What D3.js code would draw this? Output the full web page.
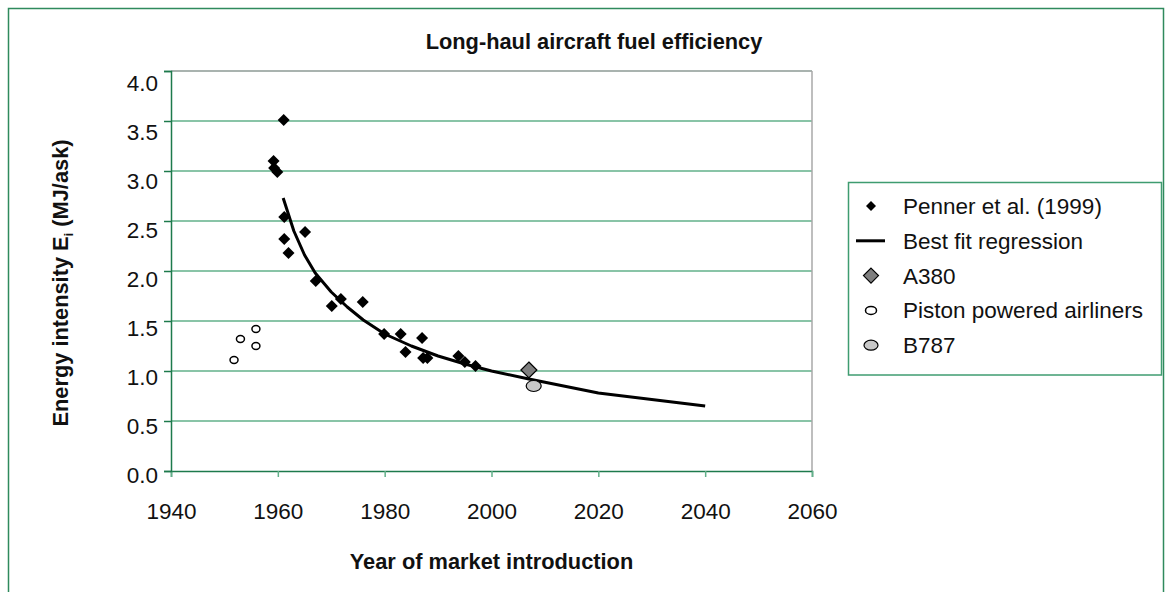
<!DOCTYPE html>
<html>
<head>
<meta charset="utf-8">
<script src="https://cdn.jsdelivr.net/npm/d3@7"></script>
<style>
  html, body { margin: 0; padding: 0; background: #fff; }
  svg { display: block; font-family: "Liberation Sans", Arial, Helvetica, sans-serif; }
</style>
</head>
<body>
<svg id="chart" width="1172" height="592"></svg>
<script>
// Penner et al. (1999) long-haul aircraft, [year, MJ/ask]
const pennerYears  = [1959.2, 1959.3, 1959.9, 1961.1, 1961.2, 1961.2, 1962.0, 1965.1, 1967.1, 1970.1, 1971.8, 1975.9, 1979.9, 1983.0, 1983.9, 1987.0, 1987.2, 1988.0, 1993.8, 1995.0, 1997.0];
const pennerValues = [3.10, 3.03, 2.99, 3.51, 2.54, 2.32, 2.18, 2.39, 1.90, 1.65, 1.72, 1.69, 1.37, 1.37, 1.19, 1.33, 1.13, 1.13, 1.15, 1.09, 1.05];

// Best fit regression line
const fitYears  = [1961, 1963, 1965, 1967, 1970, 1973, 1976, 1980, 1985, 1990, 1995, 2000, 2007, 2020, 2040];
const fitValues = [2.73, 2.40, 2.16, 1.98, 1.79, 1.64, 1.51, 1.37, 1.25, 1.15, 1.07, 1.00, 0.92, 0.78, 0.65];

// Piston powered airliners
const pistonYears  = [1951.8, 1953.0, 1955.9, 1955.9];
const pistonValues = [1.11, 1.32, 1.42, 1.25];

// New types
const a380 = { year: 2007.0, value: 1.01 };
const b787 = { year: 2007.9, value: 0.85 };

const xTicks = [1940, 1960, 1980, 2000, 2020, 2040, 2060];
const yTicks = [0, 0.5, 1.0, 1.5, 2.0, 2.5, 3.0, 3.5, 4.0];

const legendLabels = ["Penner et al. (1999)", "Best fit regression", "A380", "Piston powered airliners", "B787"];

const chartTitle = "Long-haul aircraft fuel efficiency";
const xTitle = "Year of market introduction";

const svg = d3.select("#chart");
const plot = { left: 171, right: 812, top: 71, bottom: 471 };

const x = d3.scaleLinear().domain([1940, 2060]).range([plot.left, plot.right]);
const y = d3.scaleLinear().domain([0, 4]).range([plot.bottom, plot.top]);

const axisGreen = "#1d7a4c";
const gridGreen = "#62b08a";
const fontSize = 22.5;
const titleSize = 21.8;

// outer frame
svg.append("rect")
  .attr("x", 8.5).attr("y", 8.5)
  .attr("width", 1155).attr("height", 600)
  .attr("fill", "none").attr("stroke", "#2f8a5d").attr("stroke-width", 1.5);

// horizontal gridlines
svg.append("g").selectAll("line")
  .data(yTicks.filter(v => v > 0))
  .join("line")
  .attr("x1", plot.left).attr("x2", plot.right)
  .attr("y1", d => y(d)).attr("y2", d => y(d))
  .attr("stroke", d => d === 4 ? "#8c9a94" : gridGreen)
  .attr("stroke-width", 1.5);

// right edge of plot area
svg.append("line")
  .attr("x1", plot.right).attr("x2", plot.right)
  .attr("y1", plot.top).attr("y2", plot.bottom)
  .attr("stroke", "#a8a8a8").attr("stroke-width", 1.5);

// x axis
const xAxis = svg.append("g")
  .attr("transform", `translate(0,${plot.bottom})`)
  .call(d3.axisBottom(x).tickValues(xTicks).tickSize(6).tickPadding(26).tickFormat(d3.format("d")));
xAxis.select(".domain").attr("stroke", axisGreen).attr("stroke-width", 1.5);
xAxis.selectAll(".tick line").attr("stroke", gridGreen).attr("stroke-width", 1.5);
xAxis.selectAll("text")
  .attr("font-size", fontSize).attr("fill", "#111")
  .attr("font-family", "'Liberation Sans', Arial, sans-serif");

// y axis
const yAxis = svg.append("g")
  .attr("transform", `translate(${plot.left},0)`)
  .call(d3.axisLeft(y).tickValues(yTicks).tickSize(7).tickPadding(6).tickFormat(d3.format(".1f")));
yAxis.select(".domain").attr("stroke", axisGreen).attr("stroke-width", 1.5);
yAxis.selectAll(".tick line").attr("stroke", axisGreen).attr("stroke-width", 1.5);
yAxis.selectAll("text")
  .attr("font-size", fontSize).attr("fill", "#111")
  .attr("font-family", "'Liberation Sans', Arial, sans-serif")
  .attr("dy", d => (3 + 2 * d + 8) + "px");

// regression line
const fitLine = d3.line().x(d => x(d[0])).y(d => y(d[1]));
svg.append("path")
  .datum(d3.zip(fitYears, fitValues))
  .attr("d", fitLine)
  .attr("fill", "none").attr("stroke", "#000").attr("stroke-width", 3)
  .attr("stroke-linejoin", "round");

// diamond symbol path
const diamond = r => `M0,${-r}L${r},0L0,${r}L${-r},0Z`;

// Penner points
svg.append("g").selectAll("path")
  .data(d3.zip(pennerYears, pennerValues))
  .join("path")
  .attr("transform", d => `translate(${x(d[0])},${y(d[1])})`)
  .attr("d", diamond(6))
  .attr("fill", "#000");

// piston airliners
svg.append("g").selectAll("ellipse")
  .data(d3.zip(pistonYears, pistonValues))
  .join("ellipse")
  .attr("cx", d => x(d[0])).attr("cy", d => y(d[1]))
  .attr("rx", 4).attr("ry", 3.4)
  .attr("fill", "#fff").attr("stroke", "#000").attr("stroke-width", 1.5);

// A380
svg.append("path")
  .attr("transform", `translate(${x(a380.year)},${y(a380.value)})`)
  .attr("d", diamond(8))
  .attr("fill", "#7f7f7f").attr("stroke", "#000").attr("stroke-width", 1.2);

// B787
svg.append("ellipse")
  .attr("cx", x(b787.year)).attr("cy", y(b787.value))
  .attr("rx", 7.5).attr("ry", 5.5)
  .attr("fill", "#c8c8c8").attr("stroke", "#000").attr("stroke-width", 1.2);

// titles
svg.append("text")
  .attr("x", 594).attr("y", 49)
  .attr("text-anchor", "middle")
  .attr("font-size", titleSize).attr("font-weight", "bold").attr("fill", "#111")
  .text(chartTitle);

svg.append("text")
  .attr("x", (plot.left + plot.right) / 2).attr("y", 569)
  .attr("text-anchor", "middle")
  .attr("font-size", titleSize).attr("font-weight", "bold").attr("fill", "#111")
  .text(xTitle);

const yTitle = svg.append("text")
  .attr("transform", `translate(68,283) rotate(-90)`)
  .attr("text-anchor", "middle")
  .attr("font-size", titleSize).attr("font-weight", "bold").attr("fill", "#111");
yTitle.append("tspan").text("Energy intensity E");
yTitle.append("tspan").attr("font-size", 13).attr("dy", 5).text("i");
yTitle.append("tspan").attr("dy", -5).text(" (MJ/ask)");

// legend
const legend = svg.append("g");
legend.append("rect")
  .attr("x", 848.5).attr("y", 182.5)
  .attr("width", 313).attr("height", 192.5)
  .attr("fill", "#fff").attr("stroke", "#3f9c70").attr("stroke-width", 1.5);

const rowY = i => 206 + i * 34.8;
const mx = 871;
legend.append("path").attr("transform", `translate(${mx},${rowY(0)})`).attr("d", diamond(5)).attr("fill", "#000");
legend.append("line").attr("x1", 856).attr("x2", 885).attr("y1", rowY(1)).attr("y2", rowY(1))
  .attr("stroke", "#000").attr("stroke-width", 3);
legend.append("path").attr("transform", `translate(${mx},${rowY(2)})`).attr("d", diamond(7.5))
  .attr("fill", "#7f7f7f").attr("stroke", "#000").attr("stroke-width", 1.2);
legend.append("ellipse").attr("cx", mx).attr("cy", rowY(3)).attr("rx", 5.5).attr("ry", 4)
  .attr("fill", "#fff").attr("stroke", "#000").attr("stroke-width", 1.5);
legend.append("ellipse").attr("cx", mx).attr("cy", rowY(4)).attr("rx", 7).attr("ry", 5)
  .attr("fill", "#c8c8c8").attr("stroke", "#000").attr("stroke-width", 1.2);

legend.selectAll("text.lab")
  .data(legendLabels)
  .join("text")
  .attr("class", "lab")
  .attr("x", 903).attr("y", (d, i) => rowY(i) + 8)
  .attr("font-size", 22.5).attr("fill", "#111")
  .text(d => d);
</script>
</body>
</html>
